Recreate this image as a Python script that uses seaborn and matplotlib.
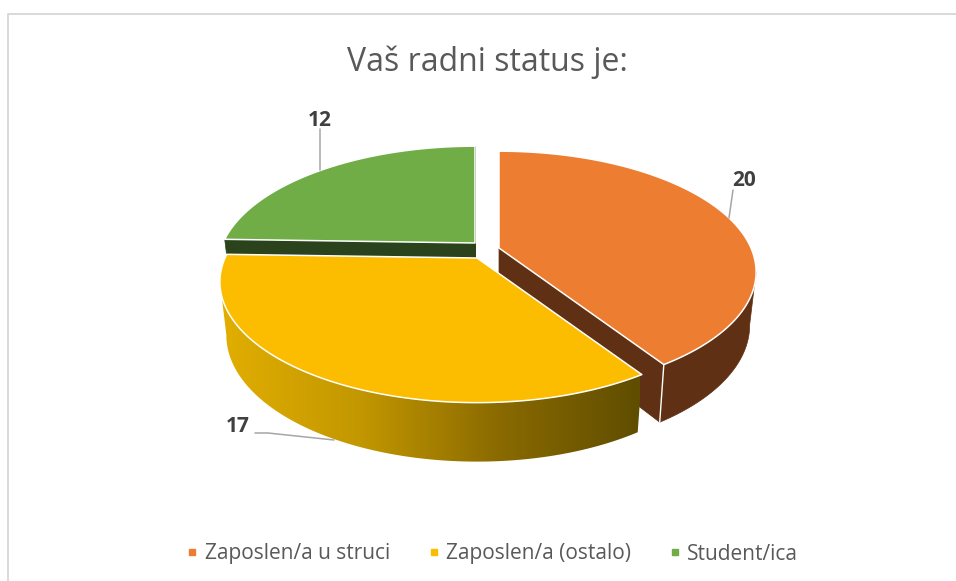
import numpy as np
import matplotlib
matplotlib.use('Agg')
import matplotlib.pyplot as plt
import seaborn as sns
from matplotlib.colors import ListedColormap
from matplotlib.lines import Line2D

# Data
categories = ['Zaposlen/a u struci', 'Zaposlen/a (ostalo)', 'Student/ica']
values = [20, 17, 12]
title = 'Vaš radni status je:'

sns.set_theme(style='white')
plt.rcParams['font.family'] = ['Open Sans', 'DejaVu Sans']

top_colors = sns.color_palette(['#ed7d31', '#fcbd00', '#70ad47'])
wall_colors = ['#5f3013', None, '#2b431c']
gold_ramp = ListedColormap(sns.blend_palette(['#e2ae00', '#c29700', '#8a6a00', '#5f4d00'], n_colors=256))

# Pie geometry in pixels: apex of each slice after the explosion
apex = [(499, 248), (477, 258), (475, 243)]
RX, RY, PERSP = 252, 116, 0.198
WALL, SHRINK = 52, 0.975


def top_xy(ang, c):
    u, v = np.sin(ang), np.cos(ang)
    d = 1 + PERSP * v
    return c[0] + RX * u / d, c[1] - RY * v / d


def bottom_xy(ang, c):
    u, v = np.sin(ang), np.cos(ang)
    d = 1 + PERSP * v
    return c[0] + SHRINK * RX * u / d, c[1] - RY * v / d + WALL / d ** 0.57


def wall_outline(t, c):
    # only the front of the wall, up to the widest point of each rim
    tx, ty = top_xy(t, c)
    bx, by = bottom_xy(t, c)
    front = np.cos(t) < 0
    tx, ty, bx, by = tx[front], ty[front], bx[front], by[front]
    n_top = np.argmax(np.abs(tx - c[0]) * (np.sign(tx - c[0]) == np.sign(tx[-1] - c[0]) if c[0] < 480 else 1))
    n_bot = np.argmax(np.abs(bx - c[0]) * (np.sign(bx - c[0]) == np.sign(bx[-1] - c[0]) if c[0] < 480 else 1))
    if c[0] < 480:
        # yellow slice: runs from the front edge round to the left
        xs = np.r_[tx[:n_top + 1], bx[:n_bot + 1][::-1]]
        ys = np.r_[ty[:n_top + 1], by[:n_bot + 1][::-1]]
    else:
        # orange slice: starts at the right and runs to the front edge
        xs = np.r_[tx[n_top:], bx[n_bot:][::-1]]
        ys = np.r_[ty[n_top:], by[n_bot:][::-1]]
    return xs, ys


fig = plt.figure(figsize=(9.56, 5.81), dpi=100)
ax = fig.add_axes([0, 0, 1, 1])
ax.axis('off')

# Slice angles come from the values, clockwise from 12 o'clock
edges = np.radians(np.cumsum([0] + values) / sum(values) * 360)

for i in [0, 2, 1]:
    c = apex[i]
    t = np.linspace(edges[i], edges[i + 1], 400)
    tx, ty = top_xy(t, c)

    if i == 1:
        # outer wall of the yellow slice has a left to right gradient
        wx, wy = wall_outline(t, c)
        wall, = ax.fill(wx, wy, facecolor='none', lw=0)
        img = ax.imshow(np.linspace(0, 1, 256)[None, :], cmap=gold_ramp, aspect='auto',
                        extent=(220, 640, 480, 240), zorder=1)
        img.set_clip_path(wall)
    else:
        if i == 0:
            wx, wy = wall_outline(t, c)
            ax.fill(wx, wy, color=wall_colors[i], lw=0.5, zorder=1)
        # cut faces
        for a in [edges[i], edges[i + 1]]:
            x0, y0 = top_xy(a, c)
            x1, y1 = bottom_xy(a, c)
            ax.fill([c[0], x0, x1, c[0]], [c[1], y0, y1, c[1] + WALL],
                    color=wall_colors[i], lw=0.5, zorder=1)
        if i == 0:
            x0, y0 = top_xy(edges[1], c)
            x1, y1 = bottom_xy(edges[1], c)
            ax.plot([x0, x1], [y0, y1], color='white', lw=1, zorder=1)

    ax.fill(np.r_[c[0], tx], np.r_[c[1], ty], facecolor=top_colors[i],
            edgecolor='white', lw=1.1, joinstyle='round', zorder=1)

# Chart frame
ax.plot([8, 8, 956], [581, 14, 14], color='#d9d9d9', lw=1.4, zorder=0)

# Data labels with leader lines
leaders = [([733, 729], [190, 218]), ([255, 268, 334], [433, 433, 440]), ([320, 320], [129, 170])]
label_xy = [(744, 181), (238, 427), (320, 121)]
for val, (lx, ly), (px, py) in zip(values, leaders, label_xy):
    ax.plot(lx, ly, color='#a6a6a6', lw=1.1, zorder=2)
    ax.text(px, py, str(val), ha='center', va='center', fontsize=15,
            fontweight='bold', color='#404040')

ax.text(487, 62, title, ha='center', va='center', fontsize=23, color='#595959')

handles = [Line2D([], [], marker='s', ls='', ms=4.6, color=col) for col in top_colors]
ax.legend(handles, categories, ncols=3, frameon=False, loc='center',
          bbox_to_anchor=(490 / 956, 1 - 554 / 581), fontsize=15,
          labelcolor='#595959', handletextpad=0.1, columnspacing=1.6, handlelength=1)

ax.set_xlim(0, 956)
ax.set_ylim(581, 0)

fig.savefig('out.png', dpi=100)
